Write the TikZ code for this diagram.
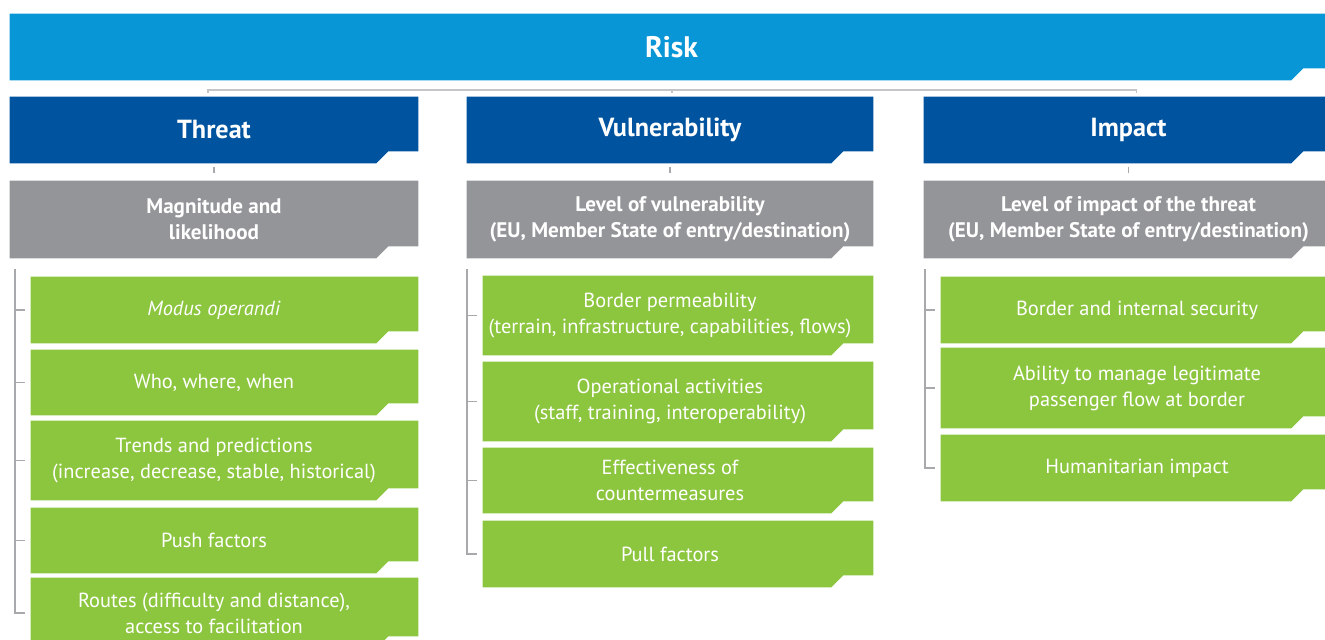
\documentclass[tikz,border=0pt]{standalone}
\usepackage{fontspec}
\setmainfont{PT Sans}
\usetikzlibrary{calc,backgrounds}

\definecolor{riskblue}{HTML}{0996D6}
\definecolor{darkblue}{HTML}{00539F}
\definecolor{boxgray}{HTML}{939598}
\definecolor{leafgreen}{HTML}{8CC63F}
\definecolor{linegray}{HTML}{A7A9AC}
\definecolor{busgray}{HTML}{C4C5C7}

% tab with the cut corner at bottom right: [left offset]{node}{colour}
\newcommand{\tabfill}[3][0]{%
  \fill[#3] ($(#2.north west)+(#1,0)$) -- (#2.north east)
    -- ($(#2.south east)+(0,-12)$) -- ($(#2.south east)+(-30,-12)$)
    -- ($(#2.south east)+(-42,0)$) -- ($(#2.south west)+(#1,0)$) -- cycle;}

\begin{document}
\begin{tikzpicture}[x=0.02cm, y=-0.02cm,
  box/.style 2 args={minimum width=#1*0.02cm, minimum height=#2*0.02cm,
    inner sep=0pt, align=center, text=white},
  head/.style={font=\bfseries\fontsize{14.9}{17}\selectfont},
  sub/.style={font=\bfseries\fontsize{12}{14.7}\selectfont},
  item/.style={font=\fontsize{11.6}{14.7}\selectfont},
  link/.style={draw=linegray, line width=0.8pt},
  bus/.style={draw=busgray, line width=1pt}]
\useasboundingbox (0,0) rectangle (1325,639);

\node[box={1323}{66}, font=\bfseries\fontsize{16.9}{19}\selectfont] at (671.5,47) (risk) {Risk};

\node[box={408}{66}, head] at (214,130) (hT) {Threat};
\node[box={406}{66}, head] at (670,130) (hV) {Vulnerability};
\node[box={409}{66}, head] at (1128.5,130) (hI) {Impact};

\node[box={408}{77}, sub] at (214,219.5) (gT) {Magnitude and\\likelihood};
\node[box={406}{77}, sub] at (670,219.5) (gV) {Level of vulnerability\\(EU, Member State of entry/destination)};
\node[box={409}{77}, sub] at (1128.5,219.5) (gI) {Level of impact of the threat\\(EU, Member State of entry/destination)};

% threat
\node[box={408}{66}, item] at (214,310) (t1) {\textit{Modus operandi}};
\node[box={408}{65}, item] at (214,382.5) (t2) {Who, where, when};
\node[box={408}{79}, item] at (214,460.5) (t3) {Trends and predictions\\(increase, decrease, stable, historical)};
\node[box={408}{65}, item] at (214,540.5) (t4) {Push factors};
\node[box={408}{70}, item] at (214,613) (t5) {Routes (difficulty and distance),\\access to facilitation};

% vulnerability
\node[box={406}{79}, item] at (670,315.5) (v1) {Border permeability\\(terrain, infrastructure, capabilities, flows)};
\node[box={406}{79}, item] at (670,401.5) (v2) {Operational activities\\(staff, training, interoperability)};
\node[box={406}{65}, item] at (670,480.5) (v3) {Effectiveness of\\countermeasures};
\node[box={406}{66}, item] at (670,554) (v4) {Pull factors};

% impact
\node[box={392}{66}, item] at (1137,310) (i1) {Border and internal security};
\node[box={392}{80}, item] at (1137,388) (i2) {Ability to manage legitimate\\passenger flow at border};
\node[box={392}{66}, item] at (1137,468) (i3) {Humanitarian impact};

\begin{scope}[on background layer]
\clip (0,0) rectangle (1325,639);
\tabfill{risk}{riskblue}
\foreach \n in {hT,hV,hI} {\tabfill{\n}{darkblue}}
\foreach \n in {gT,gV,gI} {\tabfill{\n}{boxgray}}
\foreach \n in {t1,t2,t3,t4,t5} {\tabfill[21]{\n}{leafgreen}}
\foreach \n in {v1,v2,v3,v4} {\tabfill[16]{\n}{leafgreen}}
\foreach \n in {i1,i2,i3} {\tabfill{\n}{leafgreen}}
\end{scope}

\draw[bus] ($(hT.north)+(-6,-4)$) |- ($(hI.north)+(8,-7)$) -- ($(hI.north)+(8,-4)$);
\draw[bus] ($(hV.north)+(2,-7)$) -- ($(hV.north)+(2,-4)$);

\foreach \h/\g in {hT/gT,hV/gV,hI/gI}
  \draw[link, shorten <=2.3pt, shorten >=4.5pt] (\h) -- (\g);

\coordinate (rT) at (15,269);
\coordinate (rV) at (467,269);
\coordinate (rI) at (925,269);
\draw[link] (rT) |- ($(rT |- t5.west)+(10,0)$);
\foreach \n in {t1,t2,t3,t4} \draw[link] (rT |- \n.west) -- ++(10,0);
\draw[link] (rV) |- ($(rV |- v4.west)+(10,0)$);
\foreach \n in {v1,v2,v3} \draw[link] (rV |- \n.west) -- ++(10,0);
\draw[link] (rI) |- ($(rI |- i3.west)+(10,0)$);
\foreach \n in {i1,i2} \draw[link] (rI |- \n.west) -- ++(10,0);
\end{tikzpicture}
\end{document}
